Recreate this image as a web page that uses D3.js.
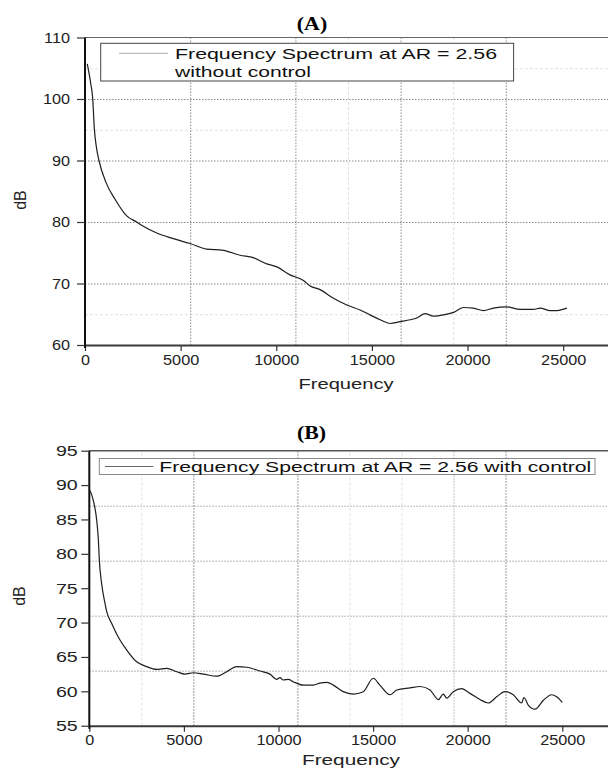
<!DOCTYPE html>
<html>
<head>
<meta charset="utf-8">
<script src="https://cdn.jsdelivr.net/npm/d3@7"></script>
<style>
  body { margin: 0; background: #fff; }
  svg { display: block; font-family: "Liberation Sans", Arial, sans-serif; }
</style>
</head>
<body>
<script>
var width = 608, height = 769;

// Panel A : without control
var freqA = [120, 300, 400, 490, 610, 730, 1100, 1570, 2180, 2700, 3050, 3750, 4620, 5490, 6360, 7230, 8110, 8800,
  9500, 10030, 10720, 11420, 11770, 12290, 12990, 13690, 14380, 14900, 15430, 15950, 16480, 17000, 17350, 17780,
  18220, 18740, 19260, 19780, 20300, 20830, 21350, 22050, 22750, 23450, 23800, 24320, 24670, 25190]
var dbA = [105.7, 102.5, 100.2, 95.1, 91.9, 90.0, 86.4, 83.7, 81.0, 80.0, 79.3, 78.2, 77.3, 76.5, 75.6, 75.4, 74.6, 74.2,
  73.2, 72.7, 71.4, 70.5, 69.6, 69.0, 67.6, 66.5, 65.7, 64.9, 64.1, 63.5, 63.8, 64.1, 64.4, 65.1,
  64.7, 64.9, 65.3, 66.1, 66.0, 65.6, 66.0, 66.2, 65.8, 65.8, 66.0, 65.6, 65.6, 66.0]

// Panel B : with control
var freqB = [0, 210, 390, 480, 530, 650, 830, 920, 1180, 1530, 1980, 2500, 3030, 3560, 4090, 4620, 5060, 5500, 6030,
  6730, 7260, 7790, 8320, 9020, 9550, 9900, 10080, 10250, 10520, 10780, 11310, 11840, 12190, 12550, 12900, 13420,
  13950, 14480, 15010, 15360, 15890, 16250, 16950, 17480, 18010, 18450, 18710, 18890, 19240, 19680, 20120, 20650,
  21090, 21530, 21970, 22410, 22850, 22970, 23200, 23560, 24000, 24440, 24700, 25000]
var dbB = [89.4, 87.8, 84.9, 82.0, 79.1, 75.7, 72.8, 71.6, 69.9, 67.9, 66.0, 64.3, 63.6, 63.2, 63.35, 62.85, 62.5, 62.7, 62.5,
  62.2, 62.85, 63.6, 63.5, 62.95, 62.5, 61.75, 62.0, 61.65, 61.75, 61.4, 60.9, 60.9, 61.2, 61.3, 60.9, 59.95,
  59.6, 59.95, 61.9, 60.9, 59.5, 60.2, 60.5, 60.7, 60.2, 58.8, 59.6, 59.0, 59.95, 60.4, 59.7, 58.8,
  58.3, 59.2, 59.95, 59.5, 58.3, 59.1, 58.0, 57.4, 58.7, 59.5, 59.2, 58.4]

var xTicks = [0, 5000, 10000, 15000, 20000, 25000]
var yTicksA = [60, 70, 80, 90, 100, 110]
var yTicksB = [55, 60, 65, 70, 75, 80, 85, 90, 95]

// grid positions
var gridHA = [70, 80, 90, 100], gridHAfaint = [65, 95, 105]
var gridVA = [5500, 11000, 16500, 22000], gridVAfaint = [13750, 19250]
var gridHB = [63, 71, 79, 87]
var gridVB = [5500, 11000, 22000], gridVBmid = [19250], gridVBfaint = [2750, 13750, 16500]

var legendA = ["Frequency Spectrum at AR = 2.56", "without control"]
var legendB = "Frequency Spectrum at AR = 2.56 with control"

var svg = d3.select("body")
  .append("svg")
  .attr("width", width)
  .attr("height", height);

// Scales
var xA = d3.scaleLinear().domain([0, 27500]).range([85, 611])
var yA = d3.scaleLinear().domain([60, 110]).range([345, 37.5])
var xB = d3.scaleLinear().domain([0, 27500]).range([89.3, 609.6])
var yB = d3.scaleLinear().domain([55, 95]).range([725.7, 450.7])

function hGrid(x, y, vals, color, dash) {
  var g = svg.append("g")
    .attr("transform", `translate(${x.range()[0]},0)`)
    .call(d3.axisLeft(y).tickValues(vals).tickSize(-(width - x.range()[0])).tickFormat(""))
  g.select(".domain").remove()
  g.selectAll("line").attr("stroke", color).attr("stroke-dasharray", dash)
}

function vGrid(x, y, vals, color, dash) {
  var g = svg.append("g")
    .attr("transform", `translate(0,${y.range()[0]})`)
    .call(d3.axisBottom(x).tickValues(vals).tickSize(-(y.range()[0] - y.range()[1])).tickFormat(""))
  g.select(".domain").remove()
  g.selectAll("line").attr("stroke", color).attr("stroke-dasharray", dash)
}

// Render grids
hGrid(xA, yA, gridHAfaint, "#dde4dc", "3,2")
vGrid(xA, yA, gridVAfaint, "#dde4dc", "3,2")
hGrid(xA, yA, gridHA, "#8c8c8c", "1.5,1.5")
vGrid(xA, yA, gridVA, "#8c8c8c", "1.5,1.5")

vGrid(xB, yB, gridVBfaint, "#dce6dc", "3,2")
vGrid(xB, yB, gridVBmid, "#b0b0b0", "1.5,1.5")
hGrid(xB, yB, gridHB, "#a0a0a0", "1.5,1.5")
vGrid(xB, yB, gridVB, "#7c7c7c", "1.5,1.5")

// top borders
svg.append("line")
  .attr("x1", xA.range()[0]).attr("x2", width)
  .attr("y1", yA(110)).attr("y2", yA(110))
  .attr("stroke", "#666").attr("stroke-width", 1.2)

svg.append("line")
  .attr("x1", xB.range()[0]).attr("x2", width)
  .attr("y1", yB(95)).attr("y2", yB(95))
  .attr("stroke", "#555").attr("stroke-width", 1.4)

// Axes
function drawAxes(x, y, yTicks, yLabelX, yStretch, xLabelDy) {
  var xr = svg.append("g")
    .attr("transform", `translate(0,${y.range()[0]})`)
    .call(d3.axisBottom(x).tickValues(xTicks).tickSize(6).tickSizeOuter(0).tickFormat(d3.format("d")))
  xr.select(".domain").attr("stroke", "#3a3a3a").attr("stroke-width", 2)
  xr.selectAll(".tick line").attr("stroke", "#333").attr("stroke-width", 1.2)
  xr.selectAll(".tick text")
    .attr("y", 0).attr("dy", "0.35em")
    .attr("transform", `translate(0,${xLabelDy}) scale(1.16,1)`)
    .style("font-size", "14px")
    .style("font-family", "Liberation Sans, Arial, sans-serif")
    .style("fill", "#222")

  var yr = svg.append("g")
    .attr("transform", `translate(${x.range()[0]},0)`)
    .call(d3.axisLeft(y).tickValues(yTicks).tickSize(8).tickSizeOuter(0))
  yr.select(".domain").attr("stroke", "#111").attr("stroke-width", 2)
    .attr("d", `M0,${y.range()[1]}V${y.range()[0] + 3}`)
  yr.selectAll(".tick line").attr("stroke", "#333").attr("stroke-width", 1.2)
  yr.selectAll(".tick text")
    .attr("x", 0).attr("dy", "0.35em")
    .attr("transform", `translate(${yLabelX},0) scale(${yStretch},1)`)
    .style("font-size", "14px")
    .style("font-family", "Liberation Sans, Arial, sans-serif")
    .style("fill", "#222")
}

drawAxes(xA, yA, yTicksA, -15, 1.16, 15)
drawAxes(xB, yB, yTicksB, -11.6, 1.4, 14.3)

// Curves
var lineA = d3.line()
  .x(d => xA(d[0]))
  .y(d => yA(d[1]))
  .curve(d3.curveMonotoneX)

var lineB = d3.line()
  .x(d => xB(d[0]))
  .y(d => yB(d[1]))
  .curve(d3.curveMonotoneX)

svg.append("path")
  .datum(freqA.map((f, i) => [f, dbA[i]]))
  .attr("d", lineA)
  .attr("fill", "none")
  .attr("stroke", "#1e1e1e")
  .attr("stroke-width", 1.2)

svg.append("path")
  .datum(freqB.map((f, i) => [f, dbB[i]]))
  .attr("d", lineB)
  .attr("fill", "none")
  .attr("stroke", "#1e1e1e")
  .attr("stroke-width", 1.2)

// Legend A
svg.append("rect")
  .attr("x", 100.7).attr("y", 43.3)
  .attr("width", 513.6 - 100.7).attr("height", 81 - 43.3)
  .attr("fill", "#fff").attr("stroke", "#444").attr("stroke-width", 1)

svg.append("line")
  .attr("x1", 119).attr("x2", 168).attr("y1", 53.3).attr("y2", 53.3)
  .attr("stroke", "#aaa").attr("stroke-width", 1)

svg.append("text")
  .attr("x", 175).attr("y", 59)
  .attr("textLength", 322).attr("lengthAdjust", "spacingAndGlyphs")
  .style("font-size", "14.5px").style("fill", "#111")
  .text(legendA[0])

svg.append("text")
  .attr("x", 175).attr("y", 76.5)
  .attr("textLength", 136).attr("lengthAdjust", "spacingAndGlyphs")
  .style("font-size", "14.5px").style("fill", "#111")
  .text(legendA[1])

// Legend B
svg.append("rect")
  .attr("x", 99.3).attr("y", 458.5)
  .attr("width", 595 - 99.3).attr("height", 474.5 - 458.5)
  .attr("fill", "#fff").attr("stroke", "#888").attr("stroke-width", 1)

svg.append("line")
  .attr("x1", 105).attr("x2", 153.3).attr("y1", 466.5).attr("y2", 466.5)
  .attr("stroke", "#666").attr("stroke-width", 1)

svg.append("text")
  .attr("x", 159.3).attr("y", 472)
  .attr("textLength", 432).attr("lengthAdjust", "spacingAndGlyphs")
  .style("font-size", "14.7px").style("fill", "#111")
  .text(legendB)

// Titles
svg.append("text")
  .attr("transform", "translate(312,30) scale(1.15,1)")
  .attr("text-anchor", "middle")
  .style("font-family", "Liberation Serif, Times New Roman, serif")
  .style("font-weight", "bold")
  .style("font-size", "19px")
  .text("(A)")

svg.append("text")
  .attr("transform", "translate(311.5,439) scale(1.15,1)")
  .attr("text-anchor", "middle")
  .style("font-family", "Liberation Serif, Times New Roman, serif")
  .style("font-weight", "bold")
  .style("font-size", "19px")
  .text("(B)")

// Axis labels
svg.append("text")
  .attr("x", 346 - 47.5).attr("y", 389)
  .attr("textLength", 95).attr("lengthAdjust", "spacingAndGlyphs")
  .style("font-size", "15px").style("fill", "#222")
  .text("Frequency")

svg.append("text")
  .attr("x", 351 - 49).attr("y", 765)
  .attr("textLength", 98).attr("lengthAdjust", "spacingAndGlyphs")
  .style("font-size", "15px").style("fill", "#222")
  .text("Frequency")

svg.append("text")
  .attr("transform", "translate(20,200) rotate(-90)")
  .attr("text-anchor", "middle")
  .attr("dominant-baseline", "central")
  .style("font-size", "16px").style("fill", "#222")
  .text("dB")

svg.append("text")
  .attr("transform", "translate(19,596) rotate(-90)")
  .attr("text-anchor", "middle")
  .attr("dominant-baseline", "central")
  .style("font-size", "16px").style("fill", "#222")
  .text("dB")
</script>
</body>
</html>
